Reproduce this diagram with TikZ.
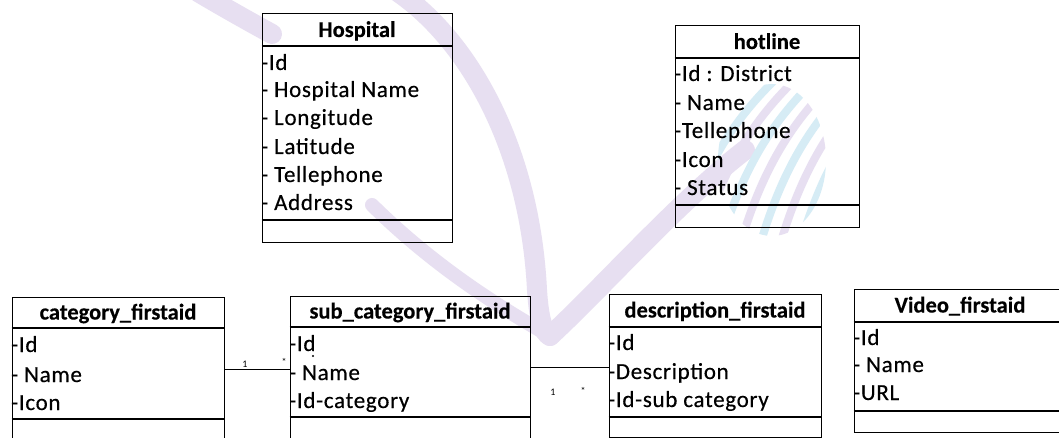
\documentclass[tikz,border=0pt]{standalone}
\usepackage{fontspec}
\setmainfont{Carlito}
\newfontfamily\rowfont{Carlito}[FakeBold=0.4,LetterSpace=3]
\newfontfamily\headfont{Carlito Bold}[FakeBold=0.3]
\definecolor{wmlav}{RGB}{231,223,241}
\definecolor{wmblue}{RGB}{214,236,245}
% one class box: name, left, top, right, header rule, body rule, bottom, title
\newcommand\erdbox[8]{%
  \node[box, minimum width={#4-#2}, minimum height={#7-#3}] (#1) at ({(#2+#4)/2},{(#3+#7)/2}) {};
  \draw[rule] (#1.west |- 0,#5) -- (#1.east |- 0,#5);
  \draw[rule] (#1.west |- 0,#6) -- (#1.east |- 0,#6);
  \node[title] (#1-t) at ({(#2+#4)/2},{(#3+#5)/2+7}) {#8};
}
\begin{document}
\begin{tikzpicture}[x=1pt,y=-1pt,
  box/.style={draw=black,line width=1pt,rectangle,inner sep=0pt},
  rule/.style={draw=black,line width=1.2pt},
  title/.style={font=\headfont\fontsize{22.5}{27}\selectfont,anchor=base,inner sep=0pt},
  row/.style={font=\rowfont\fontsize{23}{27}\selectfont,anchor=base west,inner sep=0pt},
  mult/.style={font=\fontsize{10}{12}\selectfont,inner sep=0pt},
  link/.style={draw=black,line width=0.9pt},
  wm/.style={draw=wmlav,line width=20pt,line cap=round}]
\fill[white] (0,0) rectangle (1059,438);
\useasboundingbox (0,0) rectangle (1059,438);
\clip (0,0) rectangle (1059,438);

% faint logo in the background
\draw[wm] (198,-8) .. controls (225,8) and (250,22) .. (272,34);
\draw[wm] (395,-10) .. controls (470,40) and (530,150) .. (537,290) .. controls (539,320) and (543,332) .. (550,336);
\draw[wm,line width=14pt] (372,205) .. controls (430,262) and (490,302) .. (550,336);
\draw[wm] (550,336) .. controls (600,290) and (680,200) .. (745,150);
\begin{scope}
  \clip (772,160) ellipse (54 and 76);
  \foreach \k/\c in {0/wmblue,1/wmlav,2/wmblue,3/wmlav,4/wmblue,5/wmlav,6/wmblue,7/wmlav}
    \draw[\c, line width=8pt] ({680+\k*20},245) .. controls ({702+\k*20},170) and ({732+\k*20},120) .. ({780+\k*20},75);
\end{scope}

% Hospital
\erdbox{hosp}{262}{14}{452}{46}{220}{243}{Hospital}
\foreach \t/\y [count=\i] in {-Id/70, - Hospital Name/97, - Longitude/125, - Latitude/154, - Tellephone/182, - Address/210}
  \node[row] (hosp-r\i) at (261,\y) {\t};

% hotline
\erdbox{hot}{675}{26}{859}{58}{205}{228}{hotline}
\foreach \t/\y [count=\i] in {-Id : District/81, - Name/110, -Tellephone/138, -Icon/167, - Status/195}
  \node[row] (hot-r\i) at (674,\y) {\t};

% category_firstaid
\erdbox{cat}{12}{297}{224}{328}{419}{452}{category\_firstaid}
\foreach \t/\y [count=\i] in {-Id/352, - Name/382, -Icon/410}
  \node[row] (cat-r\i) at (11,\y) {\t};

% sub_category_firstaid
\erdbox{sub}{290}{296}{530}{327}{417}{452}{sub\_category\_firstaid}
\foreach \t/\y [count=\i] in {-Id/351, - Name/380, -Id-category/408}
  \node[row] (sub-r\i) at (289,\y) {\t};

% description_firstaid
\erdbox{desc}{609}{294}{821}{327}{417}{437}{description\_firstaid}
\foreach \t/\y [count=\i] in {-Id/350, -Description/379, -Id-sub category/407}
  \node[row] (desc-r\i) at (608,\y) {\t};

% Video_firstaid
\erdbox{vid}{854}{289}{1066}{322}{411}{432}{Video\_firstaid}
\foreach \t/\y [count=\i] in {-Id/345, - Name/372, -URL/400}
  \node[row] (vid-r\i) at (853,\y) {\t};

% associations
\coordinate (j1) at (224,369);
\draw[link] (cat.east |- j1) -- (sub.west |- j1);
\node[mult] (m1) at (245,364) {1};
\node[mult] (m2) at (284,362) {*};
\coordinate (j2) at (530,367);
\draw[link] (sub.east |- j2) -- (desc.west |- j2);
\node[mult] (m3) at (553,392) {1};
\node[mult] (m4) at (583,391) {*};
\fill (313,356) circle (1.2);
\end{tikzpicture}
\end{document}
